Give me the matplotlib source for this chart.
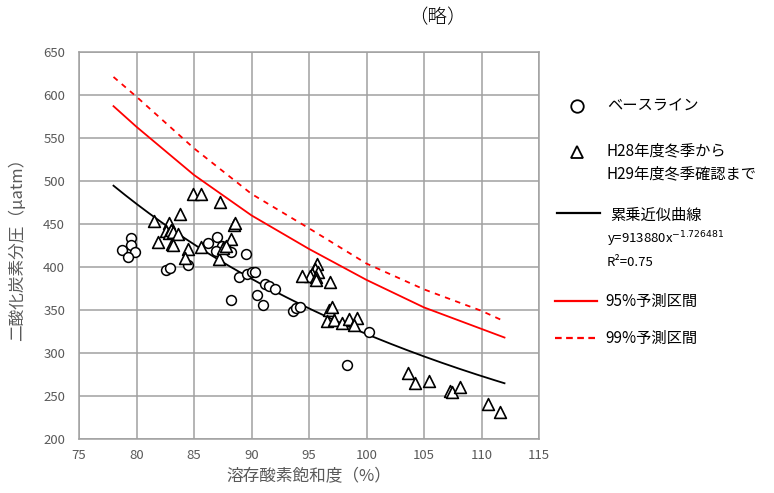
import numpy as np
import matplotlib.pyplot as plt
from matplotlib.lines import Line2D

plt.rcParams['font.family'] = ['Noto Sans CJK JP', 'DejaVu Sans']
plt.rcParams['axes.unicode_minus'] = False

# ベースライン
base_x = [79.5, 78.7, 79.5, 79.9, 79.3, 82.6, 82.9, 84.5, 86.2, 87.0,
          87.4, 87.8, 88.2, 86.9, 89.5, 88.9, 89.6, 90.0, 90.3, 91.2,
          91.5, 92.0, 90.5, 91.0, 88.2, 93.6, 93.9, 94.2, 100.2, 98.3]
base_y = [434, 420, 426, 418, 412, 396, 399, 402, 428, 435,
          424, 421, 418, 419, 415, 388, 392, 394, 394, 380,
          378, 374, 367, 356, 362, 349, 352, 353, 325, 286]

# H28年度冬季からH29年度冬季確認まで
tri_x = [84.9, 85.6, 87.3, 83.8, 81.5, 82.8, 82.6, 82.8, 83.0, 83.2,
         83.6, 88.5, 88.6, 88.2, 81.9, 83.1, 83.2, 84.5, 85.6, 84.2,
         87.2, 87.5, 87.8,
         95.7, 95.5, 95.8, 95.3, 95.1, 95.6, 94.4, 96.8, 95.6,
         96.7, 97.0, 96.6, 97.2, 97.9, 98.5, 99.2, 98.9,
         103.6, 104.2, 105.4, 107.3, 107.4, 108.1, 110.6, 111.6]
tri_y = [485, 485, 476, 462, 453, 451, 442, 440, 443, 441,
         438, 449, 451, 432, 429, 427, 426, 421, 423, 411,
         409, 422, 424,
         403, 398, 394, 392, 389, 388, 389, 383, 385,
         350, 353, 337, 338, 335, 339, 341, 332,
         277, 265, 268, 256, 255, 261, 241, 231]

# 累乗近似曲線 y = a * x^b
fit_a = 913880
fit_b = -1.726481
fit_range = (78, 112)

# 予測区間
pi95_x = [78, 80, 85, 90, 95, 100, 105, 110, 112]
pi95_y = [587, 563, 507, 460, 421, 385, 353, 328, 318]
pi99_x = [78, 80, 85, 90, 95, 100, 105, 110, 111.8]
pi99_y = [621, 598, 538, 485, 445, 404, 374, 349, 338]

W, H = 774, 493
fig = plt.figure(figsize=(W / 100, H / 100), dpi=100)
ax = fig.add_axes([79 / W, 1 - 439 / H, 460 / W, 387 / H])

grid_c = '#a0a0a0'
ax.set_xlim(75, 115)
ax.set_ylim(200, 650)
ax.set_xticks(range(75, 116, 5))
ax.set_yticks(range(200, 651, 50))
ax.grid(True, color=grid_c, linewidth=1.1)
ax.set_axisbelow(True)
for s in ax.spines.values():
    s.set_color(grid_c)
    s.set_linewidth(1.1)
ax.tick_params(length=0, colors='#595959', labelsize=9.5)
ax.tick_params(axis='y', pad=10)
ax.tick_params(axis='x', pad=7)

xx = np.linspace(fit_range[0], fit_range[1], 200)
ax.plot(xx, fit_a * xx ** fit_b, color='black', linewidth=1.3, zorder=3)
ax.plot(pi95_x, pi95_y, color='red', linewidth=1.3, zorder=3)
ax.plot(pi99_x, pi99_y, color='red', linewidth=1.3, linestyle=(0, (3, 3)), zorder=3)

ax.scatter(base_x, base_y, s=50, marker='o', facecolors='white',
           edgecolors='black', linewidths=1.1, zorder=4)
ax.scatter(tri_x, tri_y, s=72, marker='^', facecolors='white',
           edgecolors='black', linewidths=1.2, zorder=5)

ax.set_ylabel('二酸化炭素分圧（μatm）', fontsize=12, color='#595959')
ax.yaxis.set_label_coords(-0.115, 0.5)
ax.set_xlabel('溶存酸素飽和度（%）', fontsize=12, color='#595959')
ax.xaxis.set_label_coords(0.5, -0.075)

fig.text(437 / W, 1 - 18 / H, '（略）', fontsize=14, fontweight='light',
         ha='center', va='center')


def px(x, y):
    return x / W, 1 - y / H


# 凡例
leg_fs = 11
fig.add_artist(Line2D([px(577, 0)[0]], [px(0, 106)[1]], marker='o', markersize=9,
                      markerfacecolor='white', markeredgecolor='black',
                      markeredgewidth=1.3, transform=fig.transFigure))
fig.text(*px(607, 106), 'ベースライン', fontsize=leg_fs, va='center')

fig.add_artist(Line2D([px(577, 0)[0]], [px(0, 152)[1]], marker='^', markersize=9,
                      markerfacecolor='white', markeredgecolor='black',
                      markeredgewidth=1.3, transform=fig.transFigure))
fig.text(*px(607, 151), 'H28年度冬季から', fontsize=leg_fs, va='center')
fig.text(*px(607, 174), 'H29年度冬季確認まで', fontsize=leg_fs, va='center')

fig.add_artist(Line2D([557 / W, 600 / W], [1 - 213 / H] * 2, color='black',
                      linewidth=1.6, transform=fig.transFigure))
fig.text(*px(610, 215), '累乗近似曲線', fontsize=leg_fs, va='center')
fig.text(*px(607, 239), 'y=913880x$^{-1.726481}$', fontsize=9.5, va='center')
fig.text(*px(607, 263), 'R²=0.75', fontsize=9.5, va='center')

fig.add_artist(Line2D([555 / W, 597 / W], [1 - 301 / H] * 2, color='red',
                      linewidth=1.6, transform=fig.transFigure))
fig.text(*px(605, 301), '95%予測区間', fontsize=leg_fs, va='center')

fig.add_artist(Line2D([555 / W, 597 / W], [1 - 338 / H] * 2, color='red',
                      linewidth=1.6, linestyle=(0, (3, 2)),
                      transform=fig.transFigure))
fig.text(*px(605, 338), '99%予測区間', fontsize=leg_fs, va='center')

plt.savefig('out.png', dpi=100)
